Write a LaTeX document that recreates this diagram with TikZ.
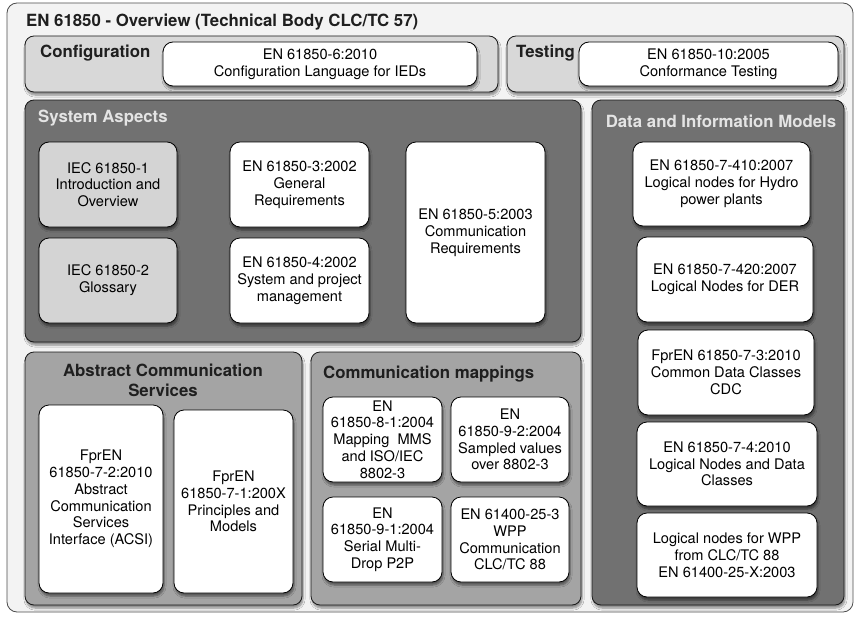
\documentclass[tikz,border=0pt]{standalone}
\usepackage{fontspec}
\setmainfont{TeX Gyre Heros}
\usetikzlibrary{shadows.blur}

\definecolor{framegray}{HTML}{F3F3F3}
\definecolor{lightpanel}{HTML}{D8D8D8}
\definecolor{darkpanel}{HTML}{717171}
\definecolor{midpanel}{HTML}{A4A4A4}
\definecolor{boxgray}{HTML}{D4D4D4}
\definecolor{paletext}{HTML}{E4E4E4}

\begin{document}
\begin{tikzpicture}[x=1pt, y=-1pt,
    panel/.style={draw=black!90, line width=0.8pt, rounded corners=9pt, inner sep=0pt,
        blur shadow={shadow xshift=1pt, shadow yshift=-3pt, shadow opacity=45, shadow blur steps=6}},
    stdbox/.style={draw=black, line width=0.8pt, fill=white, rounded corners=10pt, inner sep=0pt,
        align=center, font=\fontsize{14.6}{16.8}\selectfont,
        blur shadow={shadow xshift=1pt, shadow yshift=-3pt, shadow opacity=50, shadow blur steps=5}},
    greybox/.style={stdbox, fill=boxgray},
    heading/.style={inner sep=0pt, align=center, text=black!88, font=\fontsize{16.8}{20}\selectfont\bfseries},
    paleheading/.style={heading, text=paletext}]
    \useasboundingbox (0,0) rectangle (859,618);

    % Frame
    \node[draw=black!70, line width=0.8pt, fill=framegray, rounded corners=10pt, minimum width=846pt, minimum height=609pt] (frame) at (430,307.5) {};
    \node[heading, anchor=west] (title) at (26,22) {EN 61850 - Overview (Technical Body CLC/TC 57)};

    % Panels
    \node[panel, fill=lightpanel, minimum width=473pt, minimum height=56pt] (cfgpanel) at (261.5,64) {};
    \node[panel, fill=lightpanel, minimum width=337pt, minimum height=56pt] (tstpanel) at (675.5,64) {};
    \node[panel, fill=darkpanel, minimum width=556pt, minimum height=242pt] (syspanel) at (303,221) {};
    \node[panel, fill=darkpanel, minimum width=252pt, minimum height=505pt] (datapanel) at (718,352.5) {};
    \node[panel, fill=midpanel, minimum width=277pt, minimum height=253pt] (acspanel) at (163.5,478.5) {};
    \node[panel, fill=midpanel, minimum width=270pt, minimum height=253pt] (mappanel) at (446,478.5) {};

    \node[heading, anchor=west] (cfglabel) at (40,53) {Configuration};
    \node[heading, anchor=west] (tstlabel) at (516,53) {Testing};
    \node[paleheading, anchor=west] (syslabel) at (38,118) {System Aspects};
    \node[paleheading] (datalabel) at (721,121) {Data and Information Models};
    \node[heading] (acslabel) at (163,380) {Abstract Communication\\Services};
    \node[heading, anchor=west] (maplabel) at (323,374) {Communication mappings};

    % Configuration and testing
    \node[stdbox, minimum width=314pt, minimum height=44pt] (cfgstd) at (320,64) {EN 61850-6:2010\\Configuration Language for IEDs};
    \node[stdbox, minimum width=259pt, minimum height=44pt] (tststd) at (708.5,64) {EN 61850-10:2005\\Conformance Testing};

    % System aspects
    \node[greybox, minimum width=138pt, minimum height=85pt] (iec1) at (108,184.5) {IEC 61850-1\\Introduction and\\Overview};
    \node[greybox, minimum width=138pt, minimum height=85pt] (iec2) at (108,280.5) {IEC 61850-2\\Glossary};
    \node[stdbox, minimum width=139pt, minimum height=85pt] (std3) at (299.5,184.5) {EN 61850-3:2002\\General\\Requirements};
    \node[stdbox, minimum width=139pt, minimum height=85pt] (std4) at (299.5,280.5) {EN 61850-4:2002\\System and project\\management};
    \node[stdbox, minimum width=139pt, minimum height=181pt] (std5) at (475.5,232.5) {EN 61850-5:2003\\Communication\\Requirements};

    % Data and information models
    \node[stdbox, minimum width=177pt, minimum height=84pt] (std7410) at (721.5,184) {EN 61850-7-410:2007\\Logical nodes for Hydro\\power plants};
    \node[stdbox, minimum width=176pt, minimum height=85pt] (std7420) at (725,279.5) {EN 61850-7-420:2007\\Logical Nodes for DER};
    \node[stdbox, minimum width=176pt, minimum height=85pt] (std73) at (726,372.5) {FprEN 61850-7-3:2010\\Common Data Classes\\CDC};
    \node[stdbox, minimum width=180pt, minimum height=84pt] (std74) at (727,464) {EN 61850-7-4:2010\\Logical Nodes and Data\\Classes};
    \node[stdbox, minimum width=180pt, minimum height=84pt] (wpp) at (727,555) {Logical nodes for WPP\\from CLC/TC 88\\EN 61400-25-X:2003};

    % Abstract communication services
    \node[stdbox, minimum width=124pt, minimum height=188pt] (std72) at (101,499) {FprEN\\61850-7-2:2010\\Abstract\\Communication\\Services\\Interface (ACSI)};
    \node[stdbox, minimum width=119pt, minimum height=183pt] (std71) at (233.5,501.5) {FprEN\\61850-7-1:200X\\Principles and\\Models};

    % Communication mappings
    \node[stdbox, minimum width=119pt, minimum height=85pt] (std81) at (382.5,439.5) {EN\\61850-8-1:2004\\Mapping~~MMS\\and ISO/IEC\\8802-3};
    \node[stdbox, minimum width=118pt, minimum height=85pt] (std92) at (510,439.5) {EN\\61850-9-2:2004\\Sampled values\\over 8802-3};
    \node[stdbox, minimum width=119pt, minimum height=85pt] (std91) at (382.5,539.5) {EN\\61850-9-1:2004\\Serial Multi-\\Drop P2P};
    \node[stdbox, minimum width=118pt, minimum height=85pt] (std253) at (510,539.5) {EN 61400-25-3\\WPP\\Communication\\CLC/TC 88};
\end{tikzpicture}
\end{document}
